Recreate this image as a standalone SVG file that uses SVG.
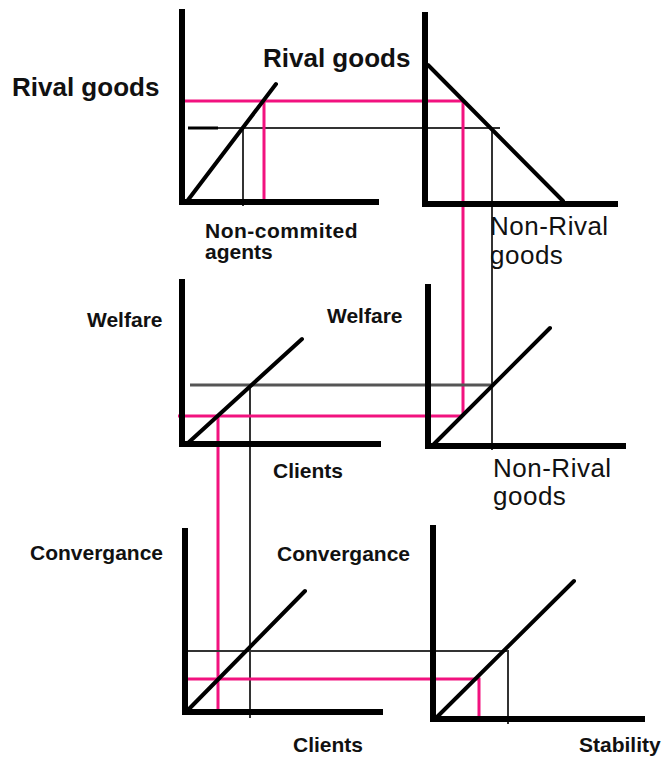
<svg xmlns="http://www.w3.org/2000/svg" width="665" height="760" viewBox="0 0 665 760">
<style>
.axis{stroke:#000;stroke-width:6;fill:none;stroke-linecap:square}
.curve{stroke:#000;stroke-width:4;fill:none;stroke-linecap:round}
.pink{stroke:#f2127f;stroke-width:3;fill:none}
.gray{stroke:#333;stroke-width:2;fill:none}
.gray2{stroke:#555;stroke-width:3;fill:none}
.lbl{font-family:"Liberation Sans",Arial,sans-serif;font-weight:bold;font-size:21px;fill:#111}
.big{font-family:"Liberation Sans",Arial,sans-serif;font-weight:bold;font-size:26px;fill:#111}
.med{font-family:"Liberation Sans",Arial,sans-serif;font-size:26px;fill:#111}
</style>
<rect width="665" height="760" fill="#fff"/>
<g id="connectors">
  <polyline class="gray" points="188,128 500,128"/>
  <line x1="188" y1="128" x2="218" y2="128" stroke="#000" stroke-width="3"/>
  <polyline class="gray" points="243,128 243,206"/>
  <polyline class="gray" points="492,128 492,450"/>
  <polyline class="pink" points="264,202 264,101 183,101 463,101 463,416"/>
  <polyline class="gray2" points="190,385 492,385"/>
  <polyline class="gray" points="250,385 250,718"/>
  <polyline class="pink" points="178,416 463,416"/>
  <polyline class="pink" points="218,416 218,713"/>
  <polyline class="gray" points="188,651 508,651 508,724"/>
  <polyline class="pink" points="185,679 479,679 479,722"/>
</g>
<g id="panel-rival">
  <polyline class="axis" points="182,12 182,202 376,202"/>
  <line class="curve" x1="188" y1="200" x2="276" y2="84"/>
  <text class="big" x="12" y="96">Rival goods</text>
  <text class="big" x="263" y="67">Rival goods</text>
  <text class="lbl" x="205" y="238" letter-spacing="0.5">Non-commited</text>
  <text class="lbl" x="205" y="259">agents</text>
</g>
<g id="panel-nonrival">
  <polyline class="axis" points="425,15 425,204 615,204"/>
  <line class="curve" x1="428" y1="65" x2="563" y2="201"/>
  <text class="med" x="490" y="235" letter-spacing="0.5">Non-Rival</text>
  <text class="med" x="490" y="264" letter-spacing="0.5">goods</text>
</g>
<g id="panel-welfare">
  <polyline class="axis" points="182,282 182,444 378,444"/>
  <line class="curve" x1="188" y1="443" x2="302" y2="339"/>
  <text class="lbl" x="87" y="327" font-size="22">Welfare</text>
  <text class="lbl" x="327" y="323" font-size="22">Welfare</text>
  <text class="lbl" x="273" y="478">Clients</text>
</g>
<g id="panel-welfare-nonrival">
  <polyline class="axis" points="428,287 428,446 623,446"/>
  <line class="curve" x1="434" y1="444" x2="550" y2="328"/>
  <text class="med" x="493" y="477" letter-spacing="0.5">Non-Rival</text>
  <text class="med" x="493" y="505" letter-spacing="0.5">goods</text>
</g>
<g id="panel-convergance">
  <polyline class="axis" points="185,531 185,712 380,712"/>
  <line class="curve" x1="188" y1="710" x2="305" y2="591"/>
  <text class="lbl" x="30" y="560">Convergance</text>
  <text class="lbl" x="277" y="561">Convergance</text>
  <text class="lbl" x="293" y="752">Clients</text>
</g>
<g id="panel-stability">
  <polyline class="axis" points="433,528 433,719 642,719"/>
  <line class="curve" x1="437" y1="717" x2="574" y2="581"/>
  <text class="lbl" x="579" y="752">Stability</text>
</g>
</svg>
